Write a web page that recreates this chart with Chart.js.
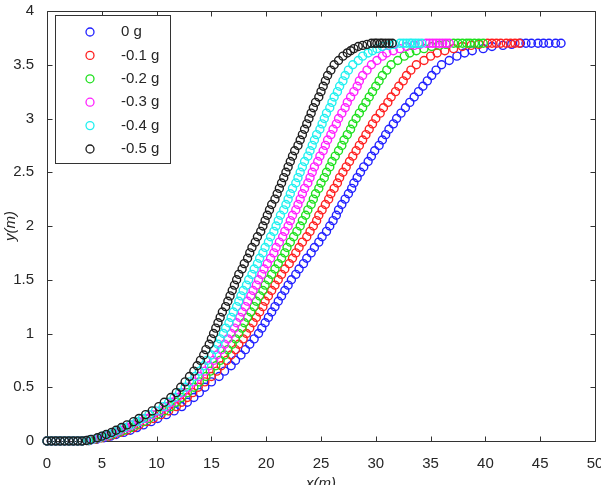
<!DOCTYPE html>
<html>
<head>
<meta charset="utf-8">
<script src="https://cdn.jsdelivr.net/npm/chart.js@4.4.1/dist/chart.umd.min.js"></script>
<style>
  body { margin: 0; background: #fff; }
  canvas { display: block; }
</style>
</head>
<body>
<canvas id="trajChart" width="601" height="485"></canvas>
<script>
// y positions of the markers (same sampling for every series)
const yLevels = [
  0, 0, 0, 0, 0, 0, 0, 0, 0,
  0.005, 0.015, 0.03, 0.045, 0.06, 0.08, 0.1, 0.125, 0.15, 0.18, 0.21, 0.245, 0.28, 0.32, 0.36, 0.405, 0.45,
  0.5, 0.55, 0.6, 0.65, 0.7, 0.75, 0.8, 0.85, 0.9, 0.95,
  1.0, 1.05, 1.1, 1.15, 1.2, 1.25, 1.3, 1.35, 1.4, 1.45,
  1.5, 1.55, 1.6, 1.65, 1.7, 1.75, 1.8, 1.85, 1.9, 1.95,
  2.0, 2.05, 2.1, 2.15, 2.2, 2.25, 2.3, 2.35, 2.4, 2.45,
  2.5, 2.55, 2.6, 2.65, 2.7, 2.75, 2.8, 2.85, 2.9, 2.95,
  3.0, 3.05, 3.1, 3.15, 3.2, 3.25, 3.3, 3.35, 3.4,
  3.45, 3.5, 3.54, 3.58, 3.61, 3.63, 3.65, 3.67, 3.68, 3.69,
  3.7, 3.7, 3.7, 3.7, 3.7, 3.7, 3.7, 3.7
];

// flat start, common to all curves
const xStart = [0, 0.4, 0.8, 1.2, 1.6, 2.0, 2.4, 2.8, 3.2];

const x0g = xStart.concat([
  3.9, 4.5, 5.2, 5.8, 6.3, 7.0, 7.6, 8.2, 8.8, 9.5, 10.1, 10.9, 11.6, 12.3, 12.8, 13.4, 13.9,
  14.4, 15.0, 15.7, 16.2, 16.8, 17.2, 17.7, 18.1, 18.5, 18.9,
  19.3, 19.6, 19.9, 20.2, 20.5, 20.8, 21.1, 21.4, 21.7, 22.0,
  22.3, 22.7, 23.0, 23.4, 23.7, 24.1, 24.4, 24.8, 25.1, 25.5,
  25.8, 26.1, 26.4, 26.6, 26.9, 27.2, 27.5, 27.8, 28.0, 28.3,
  28.6, 28.9, 29.3, 29.6, 29.9, 30.3, 30.6, 30.9, 31.2, 31.6,
  31.9, 32.3, 32.7, 33.1, 33.5, 33.9, 34.3, 34.7, 35.1,
  35.5, 36.0, 36.7, 37.4, 38.1, 38.8, 39.8, 40.6, 41.6, 42.4,
  43.2, 43.7, 44.2, 44.8, 45.3, 45.8, 46.4, 46.9
]);

const xM01g = xStart.concat([
  3.8, 4.4, 5.0, 5.6, 6.1, 6.7, 7.3, 7.9, 8.4, 9.1, 9.7, 10.4, 11.1, 11.8, 12.3, 12.8, 13.3,
  13.8, 14.4, 15.0, 15.5, 15.9, 16.4, 16.8, 17.2, 17.5, 17.9,
  18.2, 18.5, 18.8, 19.1, 19.4, 19.7, 19.9, 20.2, 20.5, 20.8,
  21.1, 21.4, 21.7, 22.1, 22.4, 22.7, 23.0, 23.3, 23.7, 24.0,
  24.3, 24.6, 24.8, 25.1, 25.4, 25.7, 25.9, 26.2, 26.5, 26.7,
  27.0, 27.3, 27.6, 27.9, 28.2, 28.5, 28.8, 29.1, 29.4, 29.7,
  30.0, 30.4, 30.7, 31.1, 31.4, 31.8, 32.1, 32.5, 32.8,
  33.2, 33.7, 34.4, 35.0, 35.6, 36.3, 37.1, 37.9, 38.7, 39.4,
  40.2, 40.6, 41.0, 41.4, 41.9, 42.3, 42.7, 43.1
]);

const xM02g = xStart.concat([
  3.8, 4.3, 4.9, 5.4, 5.9, 6.5, 7.0, 7.6, 8.1, 8.8, 9.3, 10.0, 10.7, 11.3, 11.8, 12.3, 12.8,
  13.4, 13.9, 14.5, 14.9, 15.4, 15.8, 16.2, 16.5, 16.9, 17.2,
  17.5, 17.8, 18.0, 18.3, 18.6, 18.9, 19.1, 19.4, 19.7, 19.9,
  20.2, 20.5, 20.8, 21.1, 21.4, 21.7, 21.9, 22.2, 22.5, 22.8,
  23.1, 23.3, 23.6, 23.8, 24.1, 24.3, 24.5, 24.8, 25.0, 25.3,
  25.5, 25.8, 26.0, 26.3, 26.6, 26.9, 27.1, 27.4, 27.7, 27.9,
  28.2, 28.5, 28.8, 29.1, 29.4, 29.7, 30.0, 30.3, 30.6,
  31.0, 31.4, 32.0, 32.6, 33.1, 33.7, 34.4, 35.1, 35.8, 36.4,
  37.1, 37.5, 37.9, 38.3, 38.6, 39.0, 39.4, 39.8
]);

const xM03g = xStart.concat([
  3.7, 4.2, 4.8, 5.3, 5.7, 6.3, 6.7, 7.3, 7.8, 8.4, 9.0, 9.6, 10.3, 10.9, 11.4, 11.9, 12.4,
  12.9, 13.4, 13.9, 14.4, 14.8, 15.2, 15.5, 15.9, 16.2, 16.5,
  16.8, 17.1, 17.3, 17.6, 17.8, 18.1, 18.3, 18.6, 18.8, 19.1,
  19.3, 19.6, 19.8, 20.1, 20.4, 20.7, 20.9, 21.2, 21.5, 21.7,
  22.0, 22.2, 22.4, 22.7, 22.9, 23.1, 23.3, 23.5, 23.8, 24.0,
  24.2, 24.4, 24.7, 24.9, 25.2, 25.4, 25.6, 25.9, 26.1, 26.4,
  26.6, 26.9, 27.2, 27.4, 27.7, 28.0, 28.3, 28.5, 28.8,
  29.2, 29.6, 30.1, 30.6, 31.0, 31.6, 32.2, 32.8, 33.5, 34.0,
  34.6, 34.9, 35.2, 35.5, 35.8, 36.1, 36.4, 36.7
]);

const xM04g = xStart.concat([
  3.7, 4.1, 4.7, 5.1, 5.6, 6.1, 6.5, 7.0, 7.6, 8.2, 8.7, 9.3, 9.9, 10.6, 11.1, 11.6, 12.1,
  12.6, 13.0, 13.5, 13.9, 14.3, 14.6, 15.0, 15.3, 15.6, 15.8,
  16.1, 16.3, 16.6, 16.8, 17.0, 17.3, 17.5, 17.7, 17.9, 18.2,
  18.4, 18.7, 18.9, 19.2, 19.4, 19.7, 19.9, 20.2, 20.4, 20.7,
  20.9, 21.1, 21.3, 21.6, 21.8, 22.0, 22.2, 22.4, 22.7, 22.9,
  23.1, 23.3, 23.5, 23.8, 24.0, 24.2, 24.4, 24.6, 24.9, 25.1,
  25.3, 25.5, 25.8, 26.0, 26.2, 26.5, 26.7, 27.0, 27.2,
  27.5, 27.9, 28.4, 28.8, 29.3, 29.7, 30.1, 30.6, 31.2, 31.7,
  32.2, 32.5, 32.8, 33.1, 33.3, 33.6, 33.9, 34.2
]);

const xM05g = xStart.concat([
  3.6, 4.0, 4.6, 5.0, 5.4, 5.9, 6.3, 6.8, 7.3, 7.9, 8.4, 9.0, 9.6, 10.2, 10.7, 11.3, 11.8,
  12.2, 12.6, 13.0, 13.4, 13.7, 14.0, 14.3, 14.5, 14.8, 15.0,
  15.2, 15.4, 15.6, 15.8, 16.0, 16.3, 16.5, 16.7, 16.9, 17.1,
  17.3, 17.5, 17.8, 18.0, 18.3, 18.5, 18.7, 19.0, 19.2, 19.5,
  19.7, 19.9, 20.1, 20.3, 20.5, 20.8, 21.0, 21.2, 21.4, 21.6,
  21.8, 22.0, 22.2, 22.4, 22.6, 22.9, 23.1, 23.3, 23.5, 23.7,
  23.9, 24.1, 24.3, 24.5, 24.8, 25.0, 25.2, 25.4, 25.6,
  25.9, 26.2, 26.6, 27.0, 27.4, 27.7, 28.0, 28.4, 28.8, 29.2,
  29.6, 29.9, 30.1, 30.4, 30.6, 30.9, 31.2, 31.5
]);

const labels = ["0 g", "-0.1 g", "-0.2 g", "-0.3 g", "-0.4 g", "-0.5 g"];
const series = [x0g, xM01g, xM02g, xM03g, xM04g, xM05g];
const colors = ["#2020ff", "#ff2020", "#1ee01e", "#ff20ff", "#20f0f0", "#1e1e1e"];

const xTicks = [0, 5, 10, 15, 20, 25, 30, 35, 40, 45, 50];
const yTicks = [0, 0.5, 1, 1.5, 2, 2.5, 3, 3.5, 4];

const textColor = "#262626";
const tickFont = { family: "Liberation Sans", size: 15 };

// matlab style box with inward ticks + legend inside the axes
const matlabBox = {
  id: "matlabBox",
  beforeDatasetsDraw(chart) {
    const { ctx, chartArea: a, scales: { x, y } } = chart;
    ctx.save();
    ctx.strokeStyle = "#333";
    ctx.lineWidth = 1;
    ctx.beginPath();
    const L = Math.round(a.left) + 0.5, R = Math.round(a.right) + 0.5;
    const T = Math.round(a.top) + 0.5, B = Math.round(a.bottom) + 0.5;
    ctx.rect(L, T, R - L, B - T);
    xTicks.forEach(v => {
      const px = Math.round(x.getPixelForValue(v)) + 0.5;
      ctx.moveTo(px, B); ctx.lineTo(px, B - 5);
      ctx.moveTo(px, T); ctx.lineTo(px, T + 5);
    });
    yTicks.forEach(v => {
      const py = Math.round(y.getPixelForValue(v)) + 0.5;
      ctx.moveTo(L, py); ctx.lineTo(L + 5, py);
      ctx.moveTo(R, py); ctx.lineTo(R - 5, py);
    });
    ctx.stroke();
    ctx.restore();
  },
  afterDatasetsDraw(chart) {
    const { ctx } = chart;
    ctx.save();
    ctx.fillStyle = "#fff";
    ctx.fillRect(55.5, 15.5, 115, 148);
    ctx.strokeStyle = "#333";
    ctx.lineWidth = 1;
    ctx.strokeRect(55.5, 15.5, 115, 148);
    ctx.font = "15px 'Liberation Sans'";
    ctx.textBaseline = "middle";
    ctx.textAlign = "left";
    labels.forEach((lab, i) => {
      const ry = 32 + i * 23.4;
      ctx.beginPath();
      ctx.arc(90, ry, 4, 0, Math.PI * 2);
      ctx.lineWidth = 1.3;
      ctx.strokeStyle = colors[i];
      ctx.stroke();
      ctx.fillStyle = textColor;
      ctx.fillText(lab, 121, ry);
    });
    ctx.restore();
  }
};

new Chart("trajChart", {
  type: "scatter",
  data: {
    datasets: series.map((xs, i) => ({
      label: labels[i],
      data: xs.map((v, j) => ({ x: v, y: yLevels[j] })),
      borderColor: colors[i],
      backgroundColor: "rgba(0,0,0,0)",
      pointRadius: 4,
      pointBorderWidth: 1.4,
      order: 5 - i,
      clip: false
    }))
  },
  options: {
    responsive: false,
    animation: false,
    layout: { padding: { top: 11, right: 6, bottom: -8, left: 0 } },
    plugins: {
      legend: { display: false },
      tooltip: { enabled: false }
    },
    scales: {
      x: {
        type: "linear",
        min: 0,
        max: 50,
        afterBuildTicks(scale) { scale.ticks = xTicks.map(v => ({ value: v })); },
        ticks: { padding: 6, color: textColor, font: tickFont, callback: v => String(v) },
        grid: { display: false },
        border: { display: false },
        title: {
          display: true,
          text: "x(m)",
          color: textColor,
          font: { family: "Liberation Sans", size: 15, style: "italic" },
          padding: 0
        },
        afterFit(scale) {
          scale.height = 52;
          scale.paddingLeft = 0;
          scale.paddingRight = 0;
        }
      },
      y: {
        type: "linear",
        min: 0,
        max: 4,
        afterBuildTicks(scale) { scale.ticks = yTicks.map(v => ({ value: v })); },
        ticks: { padding: 5, color: textColor, font: tickFont, callback: v => String(v) },
        grid: { display: false },
        border: { display: false },
        title: {
          display: true,
          text: "y(m)",
          color: textColor,
          font: { family: "Liberation Sans", size: 15, style: "italic" },
          padding: { top: 2, bottom: 0 }
        },
        afterFit(scale) {
          scale.width = 47;
          scale.paddingTop = 0;
          scale.paddingBottom = 0;
        }
      }
    }
  },
  plugins: [matlabBox]
});
</script>
</body>
</html>
